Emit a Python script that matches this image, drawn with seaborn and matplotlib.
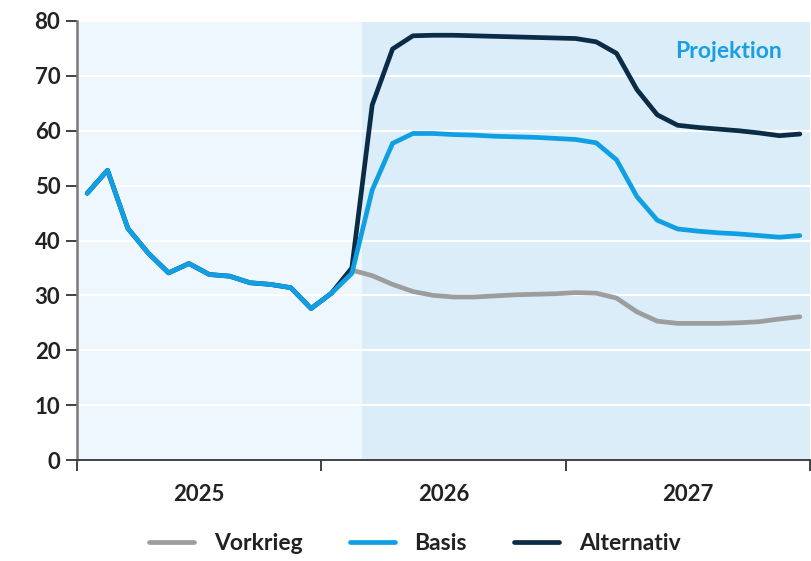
import numpy as np
import pandas as pd
import matplotlib.pyplot as plt
import seaborn as sns

# Monthly values, Jan 2025 - Dec 2027 (36 months)
months = np.arange(36) + 0.5
history = [48.6, 52.8, 42.2, 37.7, 34.1, 35.8, 33.8, 33.5, 32.3, 32.0, 31.4, 27.6, 30.4]
basis_proj = [34.0, 49.2, 57.7, 59.5, 59.5, 59.3, 59.2, 59.0, 58.9, 58.8, 58.6, 58.4,
              57.8, 54.7, 48.0, 43.7, 42.1, 41.7, 41.4, 41.2, 40.9, 40.6, 40.9]
alt_proj = [35.0, 64.7, 74.9, 77.3, 77.4, 77.4, 77.3, 77.2, 77.1, 77.0, 76.9, 76.8,
            76.2, 74.1, 67.5, 62.9, 61.0, 60.6, 60.3, 60.0, 59.6, 59.1, 59.4]
vorkrieg_proj = [34.6, 33.6, 32.0, 30.7, 30.0, 29.7, 29.7, 29.9, 30.1, 30.2, 30.3, 30.5,
                 30.4, 29.5, 27.0, 25.3, 24.9, 24.9, 24.9, 25.0, 25.2, 25.7, 26.1]

basis = history + basis_proj
alternativ = history + alt_proj
vorkrieg = [np.nan] * len(history) + vorkrieg_proj

years = ["2025", "2026", "2027"]
proj_start = 14  # projection starts March 2026

df = pd.concat([
    pd.DataFrame({"Monat": months, "Wert": vorkrieg, "Szenario": "Vorkrieg"}),
    pd.DataFrame({"Monat": months, "Wert": alternativ, "Szenario": "Alternativ"}),
    pd.DataFrame({"Monat": months, "Wert": basis, "Szenario": "Basis"}),
], ignore_index=True)

colors = {"Vorkrieg": "#9d9d9d", "Basis": "#0f9fe2", "Alternativ": "#0b2c47"}

sns.set_theme(style="white")
plt.rcParams['font.family'] = ['Lato', 'DejaVu Sans']

fig = plt.figure(figsize=(8.12, 5.61), dpi=100)
ax = fig.add_axes([0.0948, 0.18, 0.9027, 0.7826])

ax.axvspan(0, proj_start, color="#eef7fe", lw=0, zorder=0)
ax.axvspan(proj_start, 36, color="#dbedf9", lw=0, zorder=0)
for y in range(10, 90, 10):
    ax.axhline(y, color="white", lw=1.6, zorder=1)

sns.lineplot(data=df, x="Monat", y="Wert", hue="Szenario", palette=colors,
             hue_order=["Vorkrieg", "Alternativ", "Basis"], lw=3.4, ax=ax,
             legend=False, zorder=3)

ax.set_xlim(0, 36)
ax.set_ylim(0, 80)
ax.set_xlabel("")
ax.set_ylabel("")

ax.set_yticks(range(0, 90, 10))
ax.set_xticks([0, 12, 24, 36])
ax.set_xticklabels([])
ax.set_xticks([6, 18, 30], minor=True)
ax.set_xticklabels(years, minor=True)
ax.tick_params(axis="y", which="major", length=8, width=1.3, color="#333333",
               labelsize=16, labelcolor="#222222", pad=4, left=True)
ax.tick_params(axis="x", which="major", length=8, width=1.3, color="#333333",
               bottom=True, direction="out")
ax.tick_params(axis="x", which="minor", length=0, labelsize=16,
               labelcolor="#222222", pad=17)
for lab in ax.get_yticklabels() + ax.get_xticklabels(minor=True):
    lab.set_fontweight("bold")

for s in ["top", "right"]:
    ax.spines[s].set_visible(False)
ax.spines["left"].set_color("#7a7a7a")
ax.spines["left"].set_linewidth(1.8)
ax.spines["bottom"].set_color("#333333")
ax.spines["bottom"].set_linewidth(1.3)

ax.text(34.6, 74.4, "Projektion", color="#1a9fe0", fontsize=16.5,
        fontweight="bold", ha="right", va="center", zorder=4)

handles = [plt.Line2D([], [], color=colors[k], lw=3.4) for k in ["Vorkrieg", "Basis", "Alternativ"]]
leg = fig.legend(handles, ["Vorkrieg", "Basis", "Alternativ"], loc="lower center",
                 bbox_to_anchor=(0.511, -0.025), ncol=3, frameon=False,
                 handlelength=1.96, columnspacing=2.05, handletextpad=0.87,
                 prop={"size": 16.5, "weight": "bold"})
for t in leg.get_texts():
    t.set_color("#222222")

fig.savefig("out.png", dpi=100)
